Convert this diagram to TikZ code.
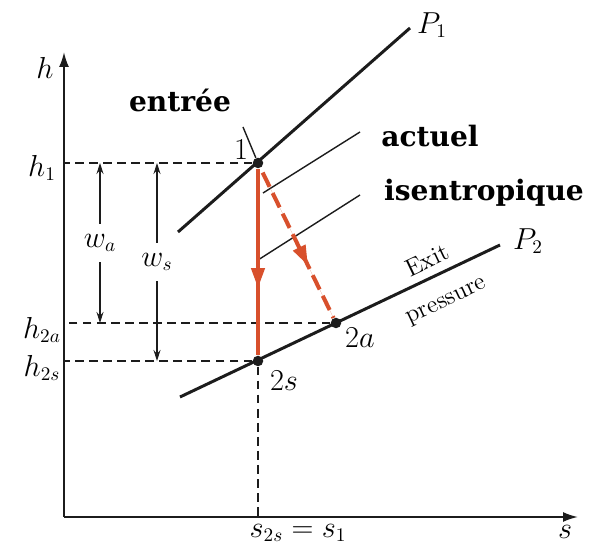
\documentclass[tikz,border=0pt]{standalone}
\usepackage{fontspec}
\newfontfamily\notefont{DejaVu Serif}
\usetikzlibrary{arrows.meta, positioning, calc, decorations.markings}
\definecolor{InkBlack}{HTML}{1C1C1C}
\definecolor{ProcRed}{HTML}{D8502C}
\tikzset{
  axis/.style={line width=1.1pt, draw=InkBlack, -{Latex[length=3mm, width=2mm]}},
  isobar/.style={line width=1.7pt, draw=InkBlack},
  thinline/.style={line width=0.8pt, draw=InkBlack},
  guide/.style={dashed, dash pattern=on 5pt off 3pt, line width=0.8pt, draw=InkBlack},
  work/.style={line width=0.6pt, draw=InkBlack, {Stealth[length=2.2mm, width=1.4mm]}-{Stealth[length=2.2mm, width=1.4mm]}},
  dot/.style={circle, fill=InkBlack, inner sep=0pt, minimum size=2.1mm},
  symb/.style={font=\fontsize{16}{18}\selectfont, inner sep=1pt},
  small/.style={font=\fontsize{14}{24}\selectfont, inner sep=0pt, align=center},
  bigword/.style={font=\notefont\bfseries\fontsize{16}{18}\selectfont, inner sep=0pt},
  midarrow/.style={postaction={decorate}, decoration={markings,
      mark=at position 0.64 with {\arrow{Triangle[length=4mm, width=2.6mm]}}}},
  redpath/.style={line width=2.3pt, draw=ProcRed, fill=ProcRed}
}

\begin{document}
\begin{tikzpicture}[x=0.02cm, y=-0.02cm]
\useasboundingbox (0,0) rectangle (592,550);

% axes
\coordinate (O) at (64,517);
\coordinate (htop) at (64,52);
\coordinate (sright) at (578,517);
\draw[axis] (O) -- (htop);
\draw[axis] (O) -- (sright);
\node[symb] (hlab) at (45,68) {$h$};
\node[symb] (slab) at (565,532) {$s$};

% states
\node[dot] (p1) at (258,163) {};
\node[dot] (p2s) at (258,361) {};
\node[dot] (p2a) at (336,323) {};
\node[symb] (l1) at (241,150) {$1$};
\node[symb] (l2s) at (284,381) {$2s$};
\node[symb] (l2a) at (360,338) {$2a$};

% isobars
\coordinate (P1a) at (178,232);
\coordinate (P1b) at (410,28);
\coordinate (P2a) at (180,397);
\coordinate (P2b) at (500,245);
\draw[isobar] (P1a) -- (P1b);
\draw[isobar] (P2a) -- (P2b);
\node[symb] (P1lab) at (432,25) {$P_1$};
\node[symb] (P2lab) at (528,241) {$P_2$};
\node[small, rotate=25.4] (exitlab) at (437,281) {Exit\\pressure};

% intermediate lines
\draw[thinline] (263,193) -- (360,132);
\draw[thinline] (258,260) -- (360,195);
\draw[thinline] (243,127) -- (p1);

% levels
\draw[guide] (p1) -- (p1 -| O);
\draw[guide] (p2a) -- (p2a -| O);
\draw[guide] (p2s) -- (p2s -| O);
\draw[guide] (p2s) -- (p2s |- O);
\node[symb] (h1lab) at (42,168) {$h_1$};
\node[symb] (h2alab) at (42,330) {$h_{2a}$};
\node[symb] (h2slab) at (42,368) {$h_{2s}$};
\node[symb] (sslab) at (298,533) {$s_{2s} = s_1$};

% work
\coordinate (wa) at (100,0);
\coordinate (ws) at (157,0);
\draw[work] (wa |- p1) -- node[symb, fill=white, inner ysep=6pt] {$w_a$} (wa |- p2a);
\draw[work] (ws |- p1) -- node[symb, fill=white, inner ysep=6pt] {$w_s$} (ws |- p2s);

% expansion
\draw[redpath, midarrow] (p1) -- (p2s);
\draw[redpath, midarrow, dash pattern=on 9pt off 4pt] ($(p1)!0.06!(p2a)$) -- (p2a);

% notes
\node[bigword] (entree) at (180,100) {entrée};
\node[bigword] (actuel) at (430,136) {actuel};
\node[bigword] (isen) at (484,193) {isentropique};
\end{tikzpicture}
\end{document}
